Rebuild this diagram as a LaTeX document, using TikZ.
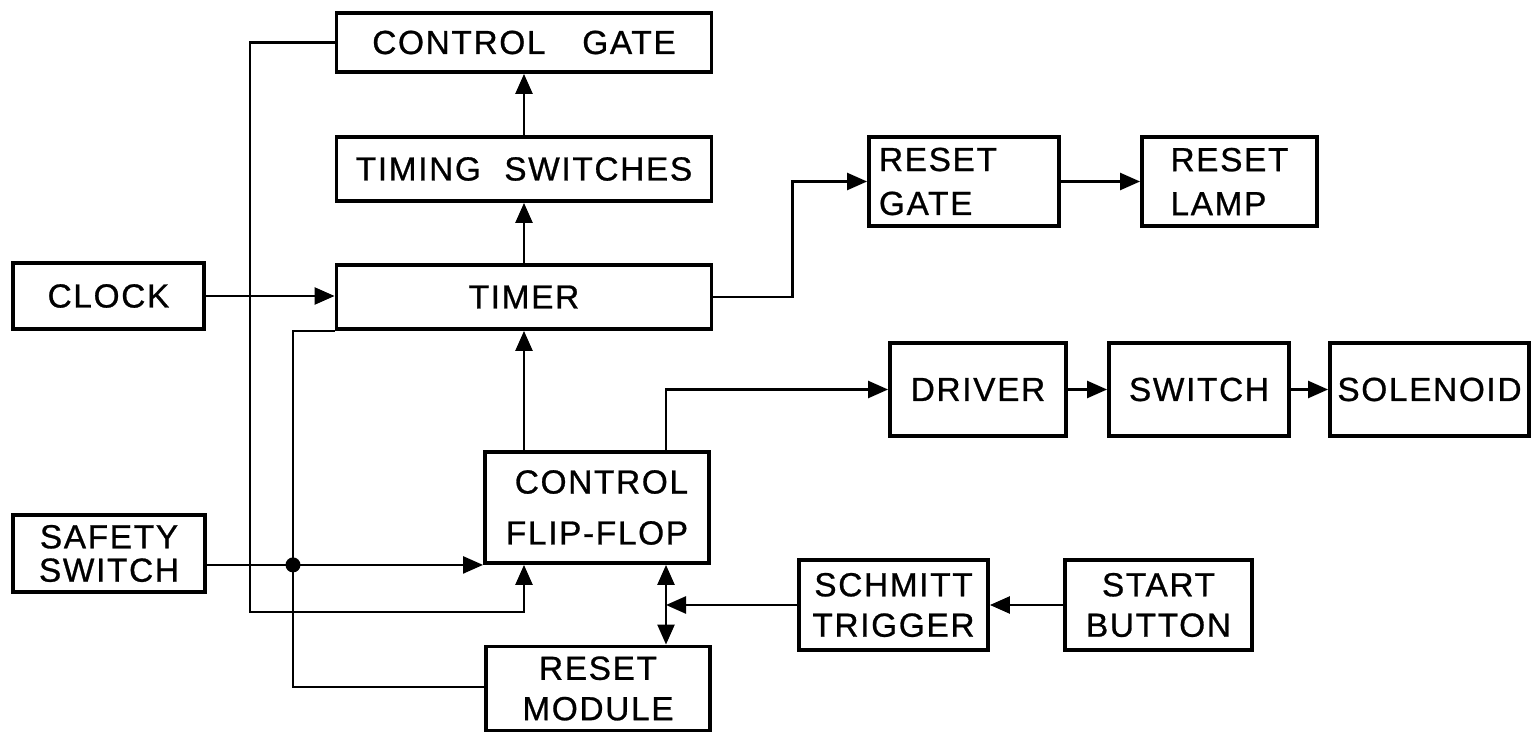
\documentclass[tikz,border=0pt]{standalone}
\usepackage{fontspec}
\setmainfont{Liberation Sans}[LetterSpace=5,FakeBold=0.8]
\usetikzlibrary{arrows.meta}
\newcommand{\blkfont}{\fontsize{9.5}{11.5}\selectfont}
\tikzset{
  >={Triangle[length=2mm,width=1.7mm]},
  blk/.style={draw=black,line width=1.1pt,inner sep=1mm,align=center,font=\blkfont},
  boxsz/.style 2 args={minimum width=#1mm,minimum height=#2mm},
  wire/.style={line width=0.7pt},
  flow/.style={wire,->},
  jdot/.style={circle,fill=black,inner sep=0pt,minimum size=1.5mm},
}
\begin{document}
\begin{tikzpicture}[x=0.1mm,y=-0.1mm]
  \useasboundingbox (0,0) rectangle (1531,733);
  % timer column
  \node[blk,boxsz={37.5}{5.9}] (cgate) at (524,42.5) {CONTROL\hspace{1.1em}GATE};
  \node[blk,boxsz={37.5}{6.4}] (tsw) at (524,169) {TIMING\hspace{0.7em}SWITCHES};
  \node[blk,boxsz={37.5}{6.4}] (timer) at (524,297) {TIMER};
  \node[blk,boxsz={19.1}{6.6}] (clock) at (108.5,296) {CLOCK};
  \node[blk,boxsz={19.2}{6.5}] (safety) at (109,553.5) {SAFETY\\[-2pt]SWITCH};
  \node[blk,boxsz={22.4}{11.1},align=right] (ffl) at (597,507.5) {CONTROL\\[3pt]FLIP-FLOP};
  \node[blk,boxsz={22.4}{8.3}] (rmod) at (598,688.5) {RESET\\MODULE};
  % right side
  \node[blk,boxsz={19}{8.9},align=left,text width=17mm] (rgate) at (964,181.5) {RESET\\[1pt]GATE};
  \node[blk,boxsz={17.5}{8.9},align=left] (rlamp) at (1229.5,181.5) {RESET\\[1pt]LAMP};
  \node[blk,boxsz={17.6}{9.3}] (driver) at (978,389.5) {DRIVER};
  \node[blk,boxsz={18}{9.3}] (sw) at (1199,389.5) {SWITCH};
  \node[blk,boxsz={19.9}{9.3},inner xsep=0.5mm] (solenoid) at (1429.5,389.5) {SOLENOID};
  \node[blk,boxsz={18.9}{9}] (schmitt) at (893.5,605) {SCHMITT\\TRIGGER};
  \node[blk,boxsz={18.7}{9}] (start) at (1158.5,605) {START\\BUTTON};
  \coordinate (lA) at (250,612);
  \coordinate (lB) at (293,687);
  \coordinate (rcol) at (666,0);
  % connectors
  \draw[flow] (clock.east) -- (clock.east -| timer.west);
  \draw[flow] (timer.north) -- (tsw.south);
  \draw[flow] (tsw.north) -- (cgate.south);
  \draw[flow] (ffl.north -| timer.south) -- (timer.south);
  \draw[flow] (cgate.west) -| (lA) -| (ffl.south -| timer.south);
  \draw[wire] (timer.south west) -| (lB) -- (lB -| rmod.west);
  \draw[flow] (safety.east |- ffl.south west) -- (ffl.south west);
  \node[jdot] (jn) at (lB |- ffl.south west) {};
  \draw[flow] (timer.east) -- ++(79,0) |- (rgate.west);
  \draw[flow] (rgate.east) -- (rlamp.west);
  \draw[flow] (ffl.north -| rcol) |- (driver.west);
  \draw[flow] (driver.east) -- (sw.west);
  \draw[flow] (sw.east) -- (solenoid.west);
  \draw[wire,<->] (ffl.south -| rcol) -- (rmod.north -| rcol);
  \draw[flow] (schmitt.west) -- (schmitt.west -| rcol);
  \draw[flow] (start.west) -- (schmitt.east);
\end{tikzpicture}
\end{document}
